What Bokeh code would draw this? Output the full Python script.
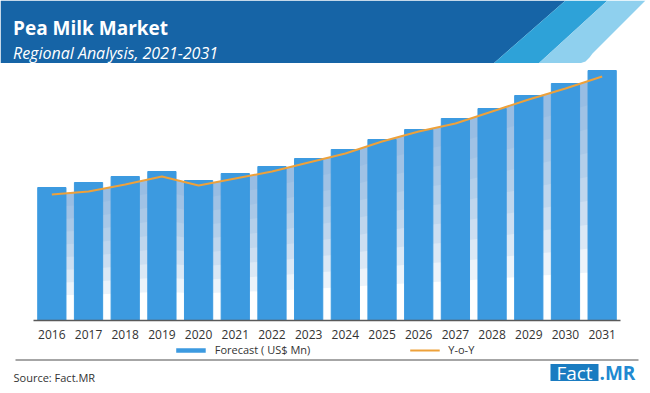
from bokeh.plotting import figure
from bokeh.models import Range1d, FactorRange, Legend, LegendItem, ColumnDataSource
from bokeh.layouts import column
from bokeh.embed import file_html
from bokeh.resources import INLINE
from bokeh.core.properties import value

# ---------------- data ----------------
years = [str(y) for y in range(2016, 2032)]
forecast = [133, 138, 144, 149, 140, 147, 154, 162, 171, 181, 191, 202, 212, 225, 237, 250]
yoy = [126, 129, 136, 144, 135, 142, 149, 158, 167, 179, 189, 197, 209, 221, 232, 244]

series_labels = ["Forecast ( US$ Mn)", "Y-o-Y"]
title_text = "Pea Milk Market"
subtitle_text = "Regional Analysis, 2021-2031"
source_text = "Source: Fact.MR"

FONT = "Open Sans"
W = 650
BAR = "#3c9ae0"
ORANGE = "#eea13a"


def bare(fig):
    fig.axis.visible = False
    fig.grid.visible = False
    fig.outline_line_color = None
    return fig


# ---------------- header ----------------
header = bare(figure(width=W, height=63, x_range=Range1d(0, 650), y_range=Range1d(63, 0),
                     output_backend="svg", toolbar_location=None, tools="", min_border=0,
                     frame_align=False))
header.patch(x=[0, 565, 493, 0], y=[0, 0, 63, 63], fill_color="#1664a6", line_color=None)
header.patch(x=[565, 607, 538, 493], y=[0, 0, 63, 63], fill_color="#2ea2d8", line_color=None)
header.patch(x=[607, 645, 592, 589, 585, 579, 538], y=[0, 0, 53, 57, 61, 63, 63],
             fill_color="#8fd0ee", line_color=None)
header.text(x=[12.5], y=[27], text=[title_text], text_font=value(FONT), text_font_style="bold",
            text_font_size="19px", text_color="white", text_baseline="alphabetic")
header.text(x=[12.5], y=[52], text=[subtitle_text], text_font=value(FONT), text_font_style="italic",
            text_font_size="16px", text_color="white", text_baseline="alphabetic")

# ---------------- main chart ----------------
src = ColumnDataSource(dict(year=years, forecast=forecast, yoy=yoy))

p = figure(x_range=FactorRange(factors=years, range_padding=0), y_range=Range1d(0, 257),
           width=W, height=279, min_border_left=33, min_border_right=30,
           min_border_top=0, min_border_bottom=22, y_axis_location=None,
           output_backend="svg", toolbar_location=None, tools="", frame_align=False)
p.grid.visible = False
p.outline_line_color = None

# soft gradient under the Y-o-Y curve (visible in the gaps between bars)
for f in [0.2, 0.3, 0.4, 0.5, 0.6, 0.7, 0.8, 0.9]:
    p.varea(x=years, y1=[v * f for v in yoy], y2=yoy, fill_color="#5f9fd8", fill_alpha=0.12)

p.vbar(x="year", top="forecast", width=0.77, color=BAR, source=src)
p.line(x="year", y="yoy", line_color=ORANGE, line_width=2, source=src)

ax = p.xaxis[0]
ax.major_tick_line_color = None
ax.minor_tick_line_color = None
ax.axis_line_color = "#595959"
ax.axis_line_width = 1.5
ax.major_label_standoff = 3
ax.major_label_text_font = FONT
ax.major_label_text_font_size = "12px"
ax.major_label_text_color = "#333333"

# ---------------- footer (legend, rule, source, logo) ----------------
footer = bare(figure(width=W, height=50, x_range=Range1d(0, 650), y_range=Range1d(392, 342),
                     output_backend="svg", toolbar_location=None, tools="", min_border=0,
                     frame_align=False))
# legend key renderers (kept outside the visible range)
lg_bar = footer.line(x=[-100, -90], y=[350, 350], line_color=BAR, line_width=4.5)
lg_line = footer.line(x=[-100, -90], y=[350, 350], line_color=ORANGE, line_width=2)
legend = Legend(items=[LegendItem(label=series_labels[0], renderers=[lg_bar]),
                       LegendItem(label=series_labels[1], renderers=[lg_line])],
                orientation="horizontal", location="top_center", spacing=99,
                glyph_width=30, glyph_height=14, label_standoff=9, label_height=14,
                label_text_font=FONT, label_text_font_size="11px", label_text_color="#333333",
                margin=0, padding=0, border_line_color=None, background_fill_alpha=0)
footer.add_layout(legend)

footer.segment(x0=[15], y0=[359.5], x1=[638], y1=[359.5], line_color="#a6a6a6", line_width=2)
footer.text(x=[13], y=[377], text=[source_text], text_font=value(FONT), text_font_size="11px",
            text_color="#333333", text_baseline="middle")
footer.quad(left=[550], right=[598], top=[363.5], bottom=[380.5], fill_color="#1a7cc1", line_color=None)
footer.text(x=[574], y=[372.5], text=["Fact"], text_font=value(FONT), text_font_size="19px",
            text_color="white", text_align="center", text_baseline="middle")
footer.text(x=[599], y=[372.5], text=[".MR"], text_font=value(FONT), text_font_size="19px",
            text_font_style="bold", text_color="#2189d1", text_baseline="middle")

layout = column(header, p, footer, spacing=0)
open("out.html", "w").write(file_html(layout, INLINE))
